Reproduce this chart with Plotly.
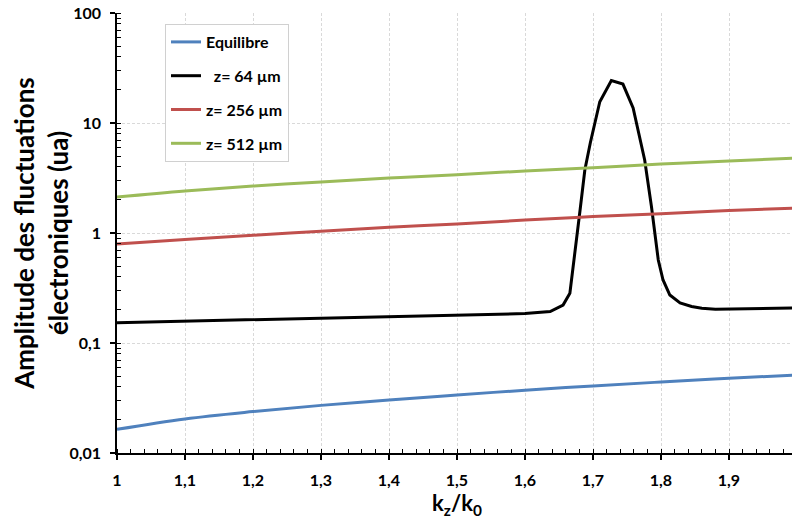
import plotly.graph_objects as go

# ---- data ----
k_grid = [1.0, 1.1, 1.2, 1.3, 1.4, 1.5, 1.6, 1.7, 1.8, 1.9, 2.0]
equilibre = [0.0164, 0.0204, 0.0238, 0.0271, 0.0303, 0.0337, 0.0372, 0.0407, 0.0442, 0.0478, 0.0511]
z256 = [0.794, 0.875, 0.955, 1.04, 1.13, 1.21, 1.31, 1.41, 1.50, 1.60, 1.687]
z512 = [2.12, 2.41, 2.67, 2.91, 3.16, 3.39, 3.66, 3.92, 4.24, 4.51, 4.81]

k_64 = [1.0, 1.1, 1.2, 1.3, 1.4, 1.5, 1.6, 1.637, 1.656, 1.666, 1.671, 1.681, 1.688,
        1.696, 1.710, 1.727, 1.744, 1.759, 1.776, 1.786, 1.796, 1.803, 1.813, 1.828,
        1.845, 1.86, 1.88, 1.9, 1.95, 2.0]
z64 = [0.153, 0.158, 0.163, 0.167, 0.172, 0.178, 0.185, 0.193, 0.221, 0.283, 0.494, 1.62, 3.74,
       6.58, 15.6, 24.3, 22.6, 13.7, 4.61, 1.73, 0.568, 0.374, 0.273, 0.231,
       0.215, 0.207, 0.203, 0.204, 0.206, 0.208]

x_ticks = [1.0, 1.1, 1.2, 1.3, 1.4, 1.5, 1.6, 1.7, 1.8, 1.9, 2.0]
x_ticktext = ["1", "1,1", "1,2", "1,3", "1,4", "1,5", "1,6", "1,7", "1,8", "1,9", "2"]
y_ticks = [0.01, 0.1, 1, 10, 100]
y_ticktext = ["0,01", "0,1", "1", "10", "100"]

names = ["Equilibre", "  z= 64 µm", "z= 256 µm", "z= 512 µm"]
colors = ["#4f81bd", "#000000", "#c0504d", "#9bbb59"]
shapes_ = ["spline", "linear", "spline", "spline"]

FONT = "Lato"

fig = go.Figure()
series = [(k_grid, equilibre), (k_64, z64), (k_grid, z256), (k_grid, z512)]
for i, ((xs, ys), nm, col, shp) in enumerate(zip(series, names, colors, shapes_)):
    fig.add_trace(go.Scatter(
        x=xs, y=ys, mode="lines", name=nm, legendgroup=f"g{i}",
        line=dict(color=col, width=3, shape=shp),
    ))

# page body adds an 8px margin, so the figure is sized 8px smaller
fig.update_layout(
    width=792, height=515,
    margin=dict(l=109, r=3, t=5, b=70),
    paper_bgcolor="white", plot_bgcolor="white",
    font=dict(family=FONT, color="black"),
    showlegend=True,
    legend=dict(
        x=0.0706, y=0.975, xanchor="left", yanchor="top",
        bgcolor="white", bordercolor="#d0d0d0", borderwidth=1,
        font=dict(family=FONT, size=16, color="black", weight="bold"),
        tracegroupgap=10, itemwidth=30,
    ),
    xaxis=dict(
        range=[1, 2], tickmode="array", tickvals=x_ticks, ticktext=x_ticktext,
        automargin=False, ticklabeloverflow="allow",
        showline=True, linecolor="black", linewidth=1.5,
        ticks="outside", ticklen=5, tickwidth=1.5, tickcolor="black",
        ticklabelstandoff=7,
        tickfont=dict(family=FONT, size=16, weight="bold"),
        showgrid=True, gridcolor="#d9d9d9", griddash="3px,2px", gridwidth=1,
        minor=dict(tickmode="linear", tick0=1, dtick=0.02, ticks="inside", ticklen=4,
                   tickwidth=1.2, tickcolor="black", showgrid=False),
        zeroline=False,
        title=dict(text="k<sub>z</sub>/k<sub>0</sub>",
                   font=dict(family=FONT, size=22, weight="bold"), standoff=3),
    ),
    yaxis=dict(
        type="log", range=[-2, 2], tickmode="array", tickvals=y_ticks, ticktext=y_ticktext,
        automargin=False, ticklabeloverflow="allow",
        showline=True, linecolor="black", linewidth=1.5,
        ticks="outside", ticklen=5, tickwidth=1.5, tickcolor="black",
        ticklabelstandoff=6,
        tickfont=dict(family=FONT, size=16, weight="bold"),
        showgrid=True, gridcolor="#d9d9d9", griddash="3px,2px", gridwidth=1,
        minor=dict(dtick="D1", ticks="inside", ticklen=4, tickwidth=1.2,
                   tickcolor="black", showgrid=False),
        zeroline=False,
        title=dict(text="Amplitude des fluctuations<br>électroniques (ua)",
                   font=dict(family=FONT, size=26, weight="bold"), standoff=2),
    ),
    shapes=[dict(type="line", xref="paper", yref="paper", x0=1, x1=1, y0=0, y1=1,
                 line=dict(color="#bfbfbf", width=2))],
)

fig.write_html("out.html")
